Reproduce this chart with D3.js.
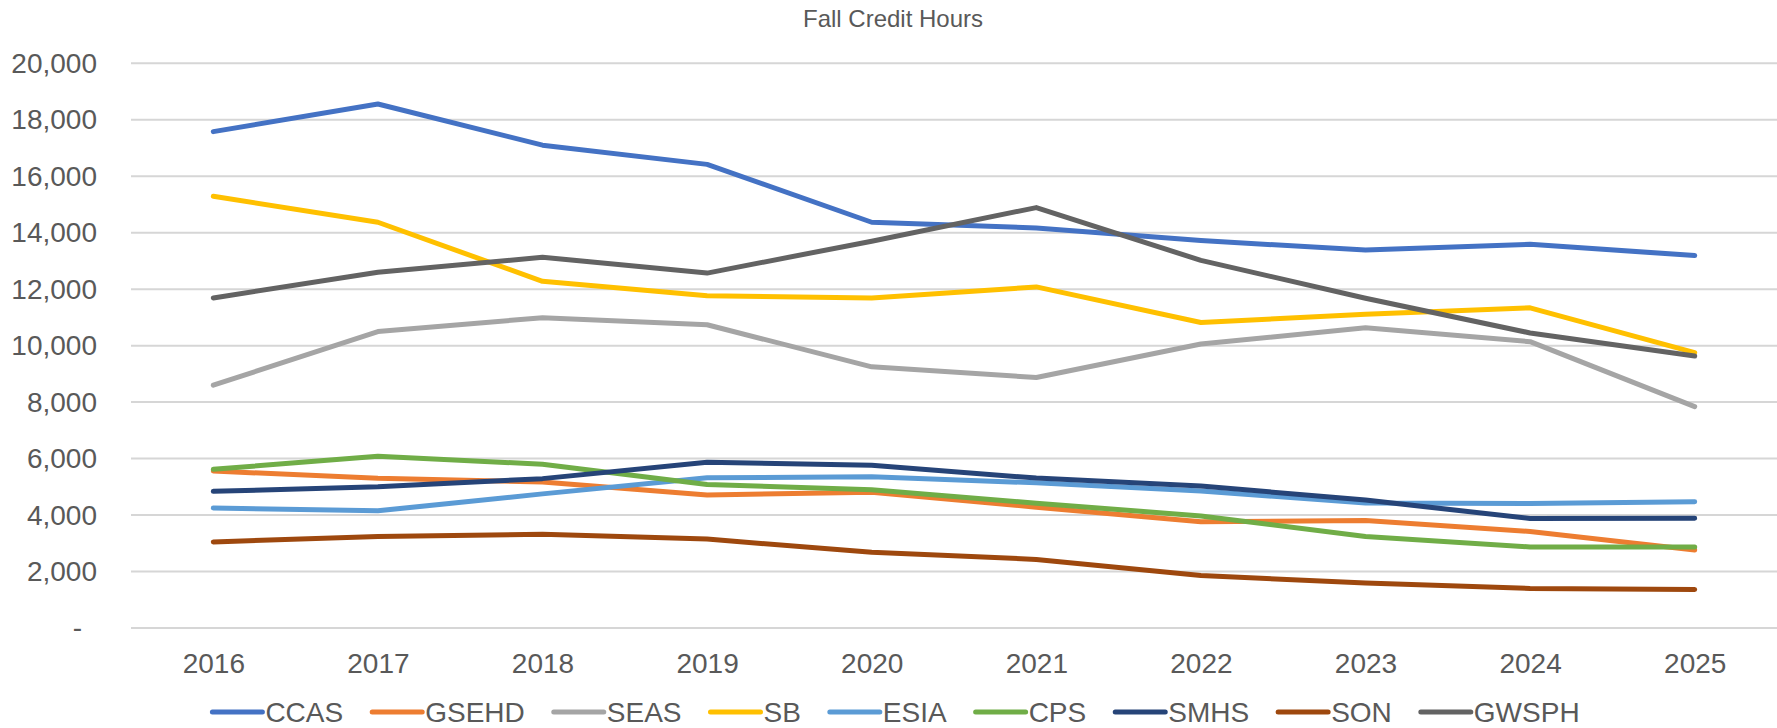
<!DOCTYPE html>
<html>
<head>
<meta charset="utf-8">
<script src="https://cdn.jsdelivr.net/npm/d3@7"></script>
<style>
  html, body { margin: 0; padding: 0; background: #fff; }
  svg { display: block; font-family: "Liberation Sans", Arial, sans-serif; }
</style>
</head>
<body>
<svg id="chart" width="1777" height="728"></svg>
<script>
const years = ["2016","2017","2018","2019","2020","2021","2022","2023","2024","2025"];
const yTicks = [0,2000,4000,6000,8000,10000,12000,14000,16000,18000,20000];
const seriesNames = ["CCAS","GSEHD","SEAS","SB","ESIA","CPS","SMHS","SON","GWSPH"];
const seriesColors = ["#4472C4","#ED7D31","#A5A5A5","#FFC000","#5B9BD5","#70AD47","#264478","#9E480E","#636363"];
const CCAS  = [17580, 18560, 17100, 16420, 14370, 14170, 13720, 13390, 13590, 13190];
const GSEHD = [5560, 5300, 5170, 4710, 4810, 4280, 3760, 3810, 3420, 2760];
const SEAS  = [8600, 10500, 10990, 10740, 9250, 8870, 10060, 10630, 10140, 7840];
const SB    = [15290, 14370, 12280, 11770, 11690, 12080, 10820, 11110, 11340, 9750];
const ESIA  = [4250, 4150, 4750, 5320, 5360, 5140, 4850, 4430, 4410, 4470];
const CPS   = [5620, 6080, 5800, 5080, 4900, 4420, 3970, 3240, 2870, 2870];
const SMHS  = [4840, 5000, 5290, 5870, 5760, 5310, 5030, 4530, 3880, 3890];
const SON   = [3050, 3240, 3320, 3150, 2680, 2430, 1860, 1590, 1400, 1365];
const GWSPH = [11690, 12600, 13130, 12570, 13700, 14890, 13020, 11680, 10450, 9630];
const seriesValues = [CCAS, GSEHD, SEAS, SB, ESIA, CPS, SMHS, SON, GWSPH];
const title = "Fall Credit Hours";

const W = 1777, H = 728;
const plot = {left: 131, right: 1777, top: 63.3, bottom: 628};
const textColor = "#595959";
const fontSize = 28;

const svg = d3.select("#chart");

const x = d3.scalePoint().domain(years).range([plot.left, plot.right]).padding(0.5);
const y = d3.scaleLinear().domain([0, 20000]).range([plot.bottom, plot.top]);

// title
svg.append("text")
  .attr("x", 893).attr("y", 27)
  .attr("text-anchor", "middle")
  .attr("fill", textColor)
  .style("font-size", "24px")
  .text(title);

// gridlines
svg.append("g").selectAll("line")
  .data(yTicks).join("line")
  .attr("x1", plot.left).attr("x2", plot.right)
  .attr("y1", d => y(d)).attr("y2", d => y(d))
  .attr("stroke", "#d6d6d6").attr("stroke-width", 2);

// y axis
const yAxis = svg.append("g")
  .attr("transform", `translate(${plot.left},0)`)
  .call(d3.axisLeft(y).tickValues(yTicks).tickSize(0).tickPadding(34)
    .tickFormat(d => d === 0 ? "-" : d3.format(",")(d)));
yAxis.select(".domain").remove();
yAxis.selectAll("text")
  .attr("fill", textColor)
  .style("font-size", fontSize + "px")
  .style("font-family", "'Liberation Sans', Arial, sans-serif")
  .attr("dx", d => d === 0 ? -15 : 0);

// x axis
const xAxis = svg.append("g")
  .attr("transform", `translate(0,${plot.bottom})`)
  .call(d3.axisBottom(x).tickSize(0).tickPadding(25));
xAxis.select(".domain").remove();
xAxis.selectAll("text")
  .attr("fill", textColor)
  .style("font-size", fontSize + "px")
  .style("font-family", "'Liberation Sans', Arial, sans-serif");

// lines
const line = d3.line().x((d, i) => x(years[i])).y(d => y(d));
svg.append("g").selectAll("path")
  .data(seriesValues).join("path")
  .attr("d", d => line(d))
  .attr("fill", "none")
  .attr("stroke", (d, i) => seriesColors[i])
  .attr("stroke-width", 5)
  .attr("stroke-linejoin", "round")
  .attr("stroke-linecap", "round");

// legend
const legend = svg.append("g");
const lineLen = 50, gapText = 3, gapItem = 29, legendY = 712, legendBase = 722;
const items = legend.selectAll("g").data(seriesNames).join("g");
items.append("line")
  .attr("x1", 0).attr("x2", lineLen)
  .attr("y1", legendY).attr("y2", legendY)
  .attr("stroke", (d, i) => seriesColors[i])
  .attr("stroke-width", 5)
  .attr("stroke-linecap", "round");
items.append("text")
  .attr("x", lineLen + gapText).attr("y", legendBase)
  .attr("fill", textColor)
  .style("font-size", fontSize + "px")
  .text(d => d);
let widths = [];
items.each(function() { widths.push(d3.select(this).select("text").node().getComputedTextLength()); });
const total = d3.sum(widths) + seriesNames.length * (lineLen + gapText) + (seriesNames.length - 1) * gapItem;
let cx = 896 - total / 2;
items.each(function(d, i) {
  d3.select(this).attr("transform", `translate(${cx},0)`);
  cx += lineLen + gapText + widths[i] + gapItem;
});
</script>
</body>
</html>
